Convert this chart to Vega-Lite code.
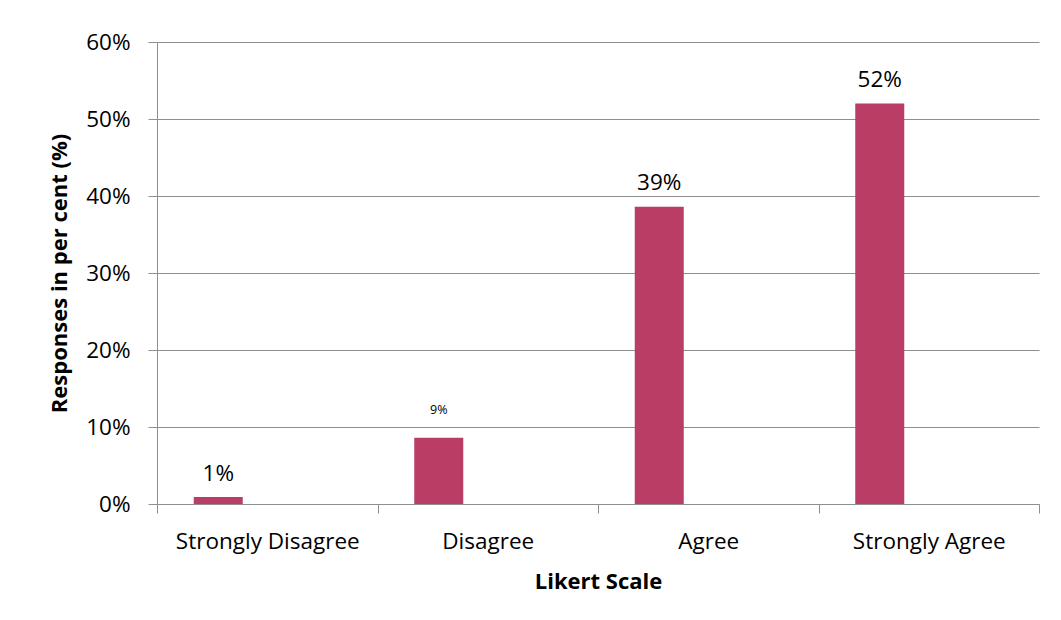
{
  "$schema": "https://vega.github.io/schema/vega-lite/v6.json",
  "width": 882,
  "height": 462,
  "autosize": {"type": "none"},
  "padding": {"left": 157, "top": 42, "right": 22, "bottom": 116},
  "background": "white",
  "config": {
    "font": "Open Sans",
    "view": {"stroke": null}
  },
  "data": {
    "values": [
      {"resp": "Strongly Disagree", "series": "Series 1", "pct": 0.009},
      {"resp": "Disagree", "series": "Series 1", "pct": 0.086},
      {"resp": "Agree", "series": "Series 1", "pct": 0.386},
      {"resp": "Strongly Agree", "series": "Series 1", "pct": 0.52}
    ]
  },
  "encoding": {
    "x": {
      "field": "resp",
      "type": "nominal",
      "sort": ["Strongly Disagree", "Disagree", "Agree", "Strongly Agree"],
      "scale": {"paddingInner": 0, "paddingOuter": 0},
      "axis": {
        "title": "Likert Scale",
        "titleFontSize": 22,
        "titleFontWeight": "bold",
        "titleColor": "#000000",
        "titlePadding": 19,
        "labelAngle": 0,
        "labelFontSize": 22.5,
        "labelColor": "#000000",
        "labelPadding": 17,
        "labelLimit": 0,
        "labelOverlap": false,
        "tickBand": "extent",
        "tickSize": 9,
        "tickColor": "#8E8E8E",
        "domainColor": "#8E8E8E",
        "grid": false
      }
    },
    "xOffset": {
      "field": "series",
      "type": "nominal",
      "scale": {
        "domain": ["Series 1", "Series 2", "Series 3"],
        "paddingInner": 0,
        "paddingOuter": 0.75
      }
    },
    "y": {
      "field": "pct",
      "type": "quantitative",
      "scale": {"domain": [0, 0.6], "nice": false},
      "axis": {
        "title": "Responses in per cent (%)",
        "titleFontSize": 22,
        "titleFontWeight": "bold",
        "titleColor": "#000000",
        "titlePadding": 14,
        "values": [0, 0.1, 0.2, 0.3, 0.4, 0.5, 0.6],
        "format": ".0%",
        "labelFontSize": 22.5,
        "labelColor": "#000000",
        "labelPadding": 18,
        "tickSize": 9,
        "tickColor": "#8E8E8E",
        "domainColor": "#8E8E8E",
        "gridColor": "#8E8E8E",
        "grid": true
      }
    }
  },
  "layer": [
    {"mark": {"type": "bar", "color": "#B93D65"}},
    {
      "transform": [{"filter": "datum.resp !== 'Disagree'"}],
      "mark": {"type": "text", "fontSize": 22.5, "baseline": "alphabetic", "dy": -16.5, "color": "#000000"},
      "encoding": {"text": {"field": "pct", "type": "quantitative", "format": ".0%"}}
    },
    {
      "transform": [{"filter": "datum.resp === 'Disagree'"}],
      "mark": {"type": "text", "fontSize": 12.5, "baseline": "alphabetic", "dy": -24, "color": "#000000"},
      "encoding": {"text": {"field": "pct", "type": "quantitative", "format": ".0%"}}
    }
  ]
}
